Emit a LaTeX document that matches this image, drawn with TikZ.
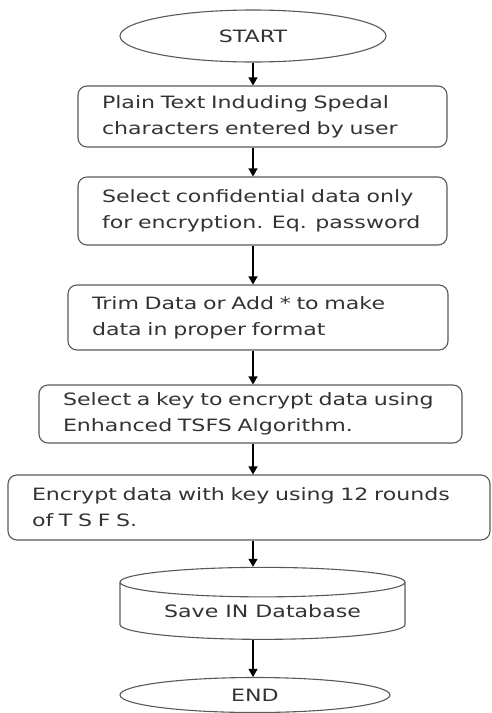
\documentclass[tikz,border=0pt]{standalone}
\usepackage{fontspec}
\setmainfont{DejaVu Sans}[FakeStretch=1.3]
\usetikzlibrary{arrows.meta,shapes.geometric}

\begin{document}
\begin{tikzpicture}[x=1pt, y=-1pt, >={Triangle[width=9pt,length=8pt]}, line width=1.1pt,
    every node/.style={font=\fontsize{17}{26}\selectfont, text=black!80},
    term/.style={ellipse, draw=black!65, inner sep=0pt},
    box/.style={rectangle, draw=black!65, rounded corners=9pt, align=left, inner xsep=24pt, inner ysep=0pt},
    store/.style={cylinder, shape border rotate=90, draw=black!65, aspect=0.15, inner sep=0pt}]
    \useasboundingbox (0,0) rectangle (491,713);

    % Nodes {start, plain, select, trim, key, encrypt, save, end}
    \node [term, minimum width=266pt, minimum height=52pt]  (start)   at (253,36)    {START};
    \node [box, text width=321pt, minimum height=61pt]      (plain)   at (262.5,116.5) {Plain Text Induding Spedal\\characters entered by user};
    \node [box, text width=321pt, minimum height=68pt]      (select)  at (262.5,211) {Select confidential data only\\for encryption. Eq. password};
    \node [box, text width=332pt, minimum height=65pt]      (trim)    at (258,317.5) {Trim Data or Add * to make\\data in proper format};
    \node [box, text width=375pt, minimum height=58pt]      (key)     at (250.5,414) {Select a key to encrypt data using\\Enhanced TSFS Algorithm.};
    \node [box, text width=434pt, minimum height=65pt]      (encrypt) at (249,507.5) {Encrypt data with key using 12 rounds\\of T S F S.};
    \node [store, minimum width=285pt, minimum height=72pt] (save)    at (262.5,611) {Save IN Database};
    \node [term, minimum width=270pt, minimum height=35pt]  (end)     at (255,695)   {END};

    % Paths
    \draw [->] (start) -- (start |- plain.north);
    \draw [->] (plain.south -| start) -- (start |- select.north);
    \draw [->] (select.south -| start) -- (start |- trim.north);
    \draw [->] (trim.south -| start) -- (start |- key.north);
    \draw [->] (key.south -| start) -- (start |- encrypt.north);
    \draw [->] (encrypt.south -| start) -- (start |- save.north);
    \draw [->] (save.south -| start) -- (start |- end.north);
\end{tikzpicture}
\end{document}
